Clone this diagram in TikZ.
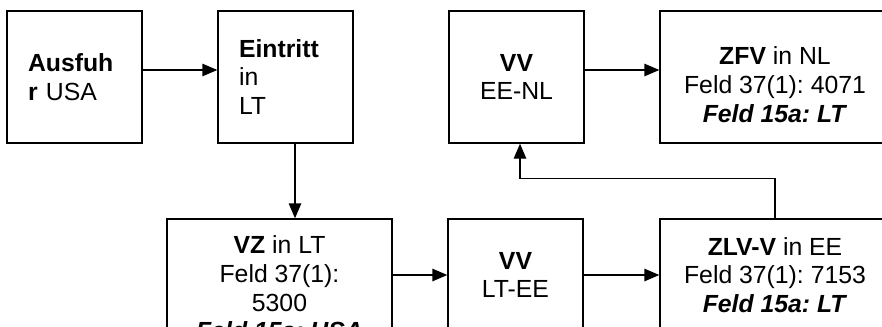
\documentclass[tikz,border=0pt]{standalone}
\usepackage{fontspec}
\setmainfont{Liberation Sans}
\frenchspacing
\usetikzlibrary{arrows.meta,positioning,calc}

\begin{document}
\begin{tikzpicture}[
    box/.style={draw, line width=0.8pt, minimum width=2.7cm, minimum height=2.64cm, align=center, font=\fontsize{14.1pt}{16.3pt}\selectfont},
    leftbox/.style={box, text width=1.86cm, inner xsep=0.42cm, align=left},
    widebox/.style={box, minimum width=4.6cm},
    arr/.style={-{Triangle[length=0.3cm, width=0.25cm]}, line width=0.8pt}
]
\useasboundingbox (0,0) rectangle (17.64,-6.52);
\clip (0,0) rectangle (17.64,-6.52);

% top row
\node[leftbox] (ausfuhr) at (1.49,-1.54) {\textbf{Ausfuh}\\\textbf{r} USA};
\node[leftbox] (eintritt) at (5.71,-1.54) {\textbf{Eintritt}\\in\\LT};
\node[box] (vvee) at (10.33,-1.54) {\textbf{VV}\\EE-NL};
\node[widebox] (zfv) at (15.50,-1.54) {\rule{0pt}{19pt}\textbf{ZFV} in NL\\Feld 37(1): 4071\\\textbf{\textit{Feld 15a: LT}}};

% bottom row
\node[box, minimum width=4.5cm, minimum height=2.76cm] (vz) at (5.59,-5.76) {\textbf{VZ} in LT\\Feld 37(1):\\5300\\\textbf{\textit{Feld 15a: USA}}};
\node[box, minimum height=2.24cm] (vvlt) at (10.31,-5.50) {\textbf{VV}\\LT-EE};
\node[widebox, minimum height=2.24cm] (zlv) at (15.50,-5.50) {\textbf{ZLV-V} in EE\\Feld 37(1): 7153\\\textbf{\textit{Feld 15a: LT}}};

\draw[arr] ([yshift=0.14cm]ausfuhr.east) -- ([yshift=0.14cm]eintritt.west);
\draw[arr] ([yshift=0.14cm]vvee.east) -- ([yshift=0.14cm]zfv.west);
\draw[arr] ([xshift=0.19cm]eintritt.south) -- ([xshift=0.19cm]eintritt.south |- vz.north);
\draw[arr] (vz.east |- vvlt.west) -- (vvlt.west);
\draw[arr] (vvlt) -- (zlv);
\draw[arr] (zlv.north) -- ($(zlv.north)+(0,0.8)$) -| ([xshift=0.07cm]vvee.south);
\end{tikzpicture}
\end{document}
